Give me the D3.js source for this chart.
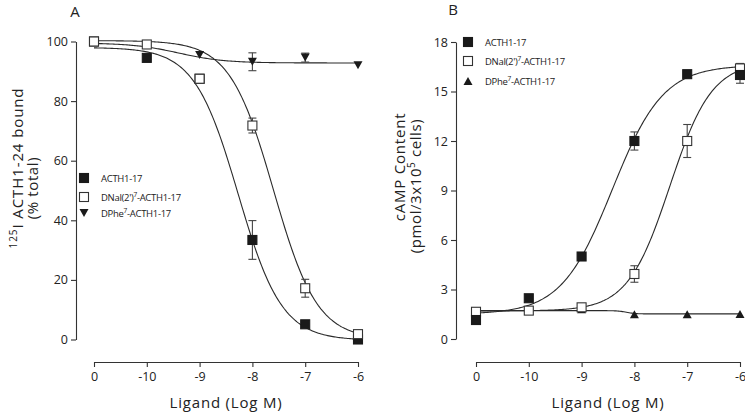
<!DOCTYPE html>
<html><head><meta charset="utf-8">
<script src="https://cdn.jsdelivr.net/npm/d3@7"></script>
<style>
html,body{margin:0;padding:0;background:#fff;}
svg{display:block;font-family:"Open Sans",sans-serif;}
</style></head>
<body><svg id="c" width="745" height="414"></svg>
<script>
// ---- shared x (log M); "0" tick stands in for the no-ligand control
const xPos = [-11, -10, -9, -8, -7, -6];
const xTickLabels = ["0", "-10", "-9", "-8", "-7", "-6"];

// ---- Panel A: 125I ACTH1-24 bound (% total)
const yTicksA = [0, 20, 40, 60, 80, 100];
const a_ACTH = [100, 94.5, 87.5, 33.4, 5.1, 0];
const a_ACTH_err = [0, 0, 0, 6.5, 0, 0];
const a_DNal = [100, 99, 87.5, 71.8, 17.2, 1.8];
const a_DNal_err = [0, 0, 0, 2.5, 3, 1];
const a_DPhe = [100, 99, 95.5, 93.2, 94.6, 92];
const a_DPhe_err = [0, 0, 0, 3, 1.5, 0];
// fitted curves: top, bottom, logEC50, hill
const fitA_ACTH = [98, -0.3, -8.27, -1.05];
const fitA_DNal = [100.3, 0, -7.6, -1.05];
const fitA_DPhe = [99.5, 92.8, -9.4, -1];

// ---- Panel B: cAMP content
const yTicksB = [0, 3, 6, 9, 12, 15, 18];
const b_ACTH = [1.15, 2.47, 5.0, 12.0, 16.05, 16.0];
const b_ACTH_err = [0, 0, 0, 0.55, 0, 0.5];
const b_DNal = [1.65, 1.72, 1.92, 3.94, 12.0, 16.4];
const b_DNal_err = [0, 0, 0, 0.5, 1.0, 0.3];
const b_DPhe = [1.65, 1.72, 1.8, 1.5, 1.5, 1.52];
const fitB_ACTH = [16.6, 1.5, -8.42, 0.9];
const fitB_DNal = [16.8, 1.7, -7.33, 1.09];
const fitB_DPhe = [1.72, 1.52, -8.15, -5];

const legendNames = [["ACTH1-17", null, ""], ["DNal(2')", "7", "-ACTH1-17"], ["DPhe", "7", "-ACTH1-17"]];

const svg = d3.select("#c");
const ink = "#1a1a1a";
const fourPL = (p, x) => p[1] + (p[0] - p[1]) / (1 + Math.pow(10, (p[2] - x) * p[3]));

function square(g, x, y, filled) {
  g.append("rect").attr("x", x - 4.5).attr("y", y - 4.5).attr("width", 9).attr("height", 9)
    .attr("fill", filled ? ink : "#fff").attr("stroke", filled ? ink : "#333").attr("stroke-width", 1.1);
}
function tri(g, x, y, down) {
  const h = 8, w = 9;
  const pts = down ? [[x - w/2, y - h/2], [x + w/2, y - h/2], [x, y + h/2]]
                   : [[x - w/2, y + h/2], [x + w/2, y + h/2], [x, y - h/2]];
  g.append("path").attr("d", "M" + pts.join("L") + "Z").attr("fill", ink);
}

function panel(opt) {
  const g = svg.append("g");
  const x = d3.scaleLinear().domain([-11, -6]).range(opt.xr);
  const y = d3.scaleLinear().domain(opt.yd).range(opt.yr);
  // axes
  const ya = d3.axisLeft(y).tickValues(opt.yTicks).tickSize(5).tickPadding(3).tickSizeOuter(0);
  const yg = g.append("g").attr("transform", `translate(${opt.yAxisX},0)`).call(ya);
  const xa = d3.axisBottom(x).tickValues(xPos).tickFormat((d, i) => xTickLabels[i]).tickSize(5).tickPadding(5).tickSizeOuter(0);
  const xg = g.append("g").attr("transform", `translate(0,${opt.xAxisY})`).call(xa);
  [yg, xg].forEach(a => {
    a.selectAll("path,line").attr("stroke", "#333").attr("stroke-width", 1.1);
    a.selectAll("text").attr("font-size", 12.5).attr("fill", "#222").attr("font-family", "Open Sans");
  });
  // curves
  const samples = d3.range(0, 201).map(i => -11 + i * 5 / 200);
  const line = d3.line().x(d => x(d[0])).y(d => y(d[1])).curve(d3.curveLinear);
  opt.fits.forEach(p => {
    g.append("path").attr("d", line(samples.map(s => [s, fourPL(p, s)])))
      .attr("fill", "none").attr("stroke", "#2a2a2a").attr("stroke-width", 1.1);
  });
  // error bars
  opt.series.forEach(s => {
    if (!s.err) return;
    s.vals.forEach((v, i) => {
      const e = s.err[i]; if (!e) return;
      const cx = x(xPos[i]);
      const eg = g.append("g").attr("stroke", "#444").attr("stroke-width", 1.1);
      eg.append("line").attr("x1", cx).attr("x2", cx).attr("y1", y(v - e)).attr("y2", y(v + e));
      eg.append("line").attr("x1", cx - 4).attr("x2", cx + 4).attr("y1", y(v - e)).attr("y2", y(v - e));
      eg.append("line").attr("x1", cx - 4).attr("x2", cx + 4).attr("y1", y(v + e)).attr("y2", y(v + e));
    });
  });
  // markers
  opt.series.forEach(s => {
    s.vals.forEach((v, i) => {
      const cx = x(xPos[i]), cy = y(v);
      if (s.kind === "fill") square(g, cx, cy, true);
      else if (s.kind === "open") square(g, cx, cy, false);
      else tri(g, cx, cy, s.kind === "down");
    });
  });
  // legend
  opt.legendY.forEach((ly, i) => {
    const k = opt.legendKinds[i];
    if (k === "fill") square(g, opt.legendX, ly, true);
    else if (k === "open") square(g, opt.legendX, ly, false);
    else tri(g, opt.legendX, ly, k === "down");
    const t = g.append("text").attr("x", opt.legendX + 17).attr("y", ly + 3.5)
      .attr("font-size", 9.5).attr("fill", "#222").attr("letter-spacing", -0.3);
    const n = legendNames[i];
    t.append("tspan").text(n[0]);
    if (n[1]) {
      t.append("tspan").attr("dy", -4).attr("font-size", 6.5).text(n[1]);
      t.append("tspan").attr("dy", 4).text(n[2]);
    }
  });
  // panel letter
  g.append("text").attr("x", opt.letter[0]).attr("y", opt.letter[1]).attr("font-size", 15)
    .attr("fill", "#222").attr("text-anchor", "middle").text(opt.letter[2]);
  // x title
  g.append("text").attr("x", (opt.xr[0] + opt.xr[1]) / 2).attr("y", 408).attr("text-anchor", "middle")
    .attr("font-size", 15).attr("letter-spacing", 0.8).attr("fill", "#222").text("Ligand (Log M)");
  return {g, x, y};
}

// Panel A
const A = panel({
  xr: [94, 358], yd: [0, 100], yr: [339.5, 41.5], yAxisX: 76, xAxisY: 362, yTicks: yTicksA,
  fits: [fitA_ACTH, fitA_DNal, fitA_DPhe],
  series: [
    {vals: a_ACTH, err: a_ACTH_err, kind: "fill"},
    {vals: a_DPhe, err: a_DPhe_err, kind: "down"},
    {vals: a_DNal, err: a_DNal_err, kind: "open"}
  ],
  legendX: 84, legendY: [178, 197, 213], legendKinds: ["fill", "open", "down"],
  letter: [75, 17, "A"]
});
// y title A
const tA = A.g.append("text").attr("transform", "translate(23,168) rotate(-90)").attr("text-anchor", "middle")
  .attr("font-size", 15).attr("fill", "#222").attr("letter-spacing", 0.9);
tA.append("tspan").attr("font-size", 10).attr("dy", -6).text("125");
tA.append("tspan").attr("dy", 6).text("I ACTH1-24  bound");
A.g.append("text").attr("transform", "translate(38,188) rotate(-90)").attr("text-anchor", "middle")
  .attr("font-size", 15).attr("fill", "#222").attr("letter-spacing", 0.6).text("(% total)");

// Panel B
const B = panel({
  xr: [476, 740], yd: [0, 18], yr: [339, 42], yAxisX: 456, xAxisY: 362, yTicks: yTicksB,
  fits: [fitB_ACTH, fitB_DNal, fitB_DPhe],
  series: [
    {vals: b_DPhe, err: null, kind: "up"},
    {vals: b_DNal, err: b_DNal_err, kind: "open"},
    {vals: b_ACTH, err: b_ACTH_err, kind: "fill"}
  ],
  legendX: 468, legendY: [42, 61, 81], legendKinds: ["fill", "open", "up"],
  letter: [453, 15, "B"]
});
B.g.append("text").attr("transform", "translate(405,167) rotate(-90)").attr("text-anchor", "middle")
  .attr("font-size", 15).attr("fill", "#222").attr("letter-spacing", 0.8).text("cAMP Content");
const tB = B.g.append("text").attr("transform", "translate(421,186) rotate(-90)").attr("text-anchor", "middle")
  .attr("font-size", 15).attr("fill", "#222").attr("letter-spacing", 0.6);
tB.append("tspan").text("(pmol/3x10");
tB.append("tspan").attr("font-size", 10).attr("dy", -6).text("5");
tB.append("tspan").attr("dy", 6).text(" cells)");
</script></body></html>
